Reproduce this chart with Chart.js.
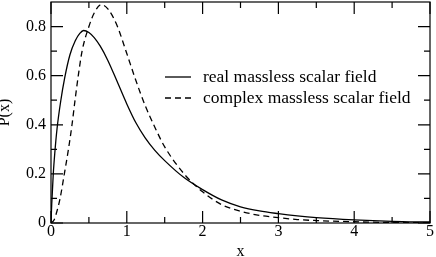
<!DOCTYPE html>
<html>
<head>
<meta charset="utf-8">
<script src="https://cdn.jsdelivr.net/npm/chart.js@4.4.0/dist/chart.umd.min.js"></script>
<style>
    html, body { margin: 0; padding: 0; background: #fff; }
</style>
</head>
<body>
<canvas id="pChart" width="436" height="257"></canvas>
<script>
// Values
const xReal = [0, 0.01, 0.03, 0.05, 0.08, 0.13, 0.18, 0.25, 0.32, 0.38, 0.43, 0.5, 0.57, 0.65, 0.75, 0.87,
    1.0, 1.12, 1.24, 1.37, 1.5, 1.75, 2.0, 2.25, 2.5, 2.75, 3.0, 3.25, 3.5, 4.0, 4.5, 5.0];
const pReal = [0, 0.08, 0.2, 0.285, 0.385, 0.5, 0.59, 0.685, 0.742, 0.772, 0.784, 0.776, 0.755, 0.72, 0.662, 0.578,
    0.485, 0.408, 0.348, 0.296, 0.254, 0.186, 0.136, 0.094, 0.066, 0.049, 0.038, 0.029, 0.022, 0.013, 0.007, 0.004];

const xComplex = [0, 0.04, 0.08, 0.12, 0.176, 0.23, 0.277, 0.317, 0.36, 0.41, 0.5, 0.57, 0.66, 0.75, 0.87,
    1.0, 1.12, 1.24, 1.37, 1.5, 1.77, 2.0, 2.25, 2.5, 2.75, 3.0, 3.25, 3.5, 4.0, 4.5, 5.0];
const pComplex = [0, 0.012, 0.05, 0.1, 0.2, 0.3, 0.4, 0.5, 0.6, 0.7, 0.8, 0.855, 0.889, 0.872, 0.805,
    0.69, 0.58, 0.48, 0.39, 0.31, 0.195, 0.127, 0.075, 0.048, 0.031, 0.022, 0.014, 0.01, 0.005, 0.002, 0.001];

const seriesLabels = ['real massless scalar field', 'complex massless scalar field'];

const xMajor = [0, 1, 2, 3, 4, 5];
const xMinor = [0.5, 1.5, 2.5, 3.5, 4.5];
const yMajor = [0, 0.2, 0.4, 0.6, 0.8];
const yMinor = [0.1, 0.3, 0.5, 0.7];

const serif = 'Liberation Serif';

function toPoints(xs, ys) {
    return xs.map((v, i) => ({ x: v, y: ys[i] }));
}

// Frame with inward ticks on all four sides
const frameTicks = {
    id: 'frameTicks',
    afterDatasetsDraw(chart) {
        const { ctx, chartArea: a, scales: { x, y } } = chart;
        ctx.save();
        ctx.strokeStyle = '#000';
        ctx.lineWidth = 1.2;
        ctx.strokeRect(a.left, a.top, a.right - a.left, a.bottom - a.top);
        ctx.beginPath();
        const xt = (vals, len) => vals.forEach(v => {
            const px = x.getPixelForValue(v);
            ctx.moveTo(px, a.bottom); ctx.lineTo(px, a.bottom - len);
            ctx.moveTo(px, a.top); ctx.lineTo(px, a.top + len);
        });
        const yt = (vals, len) => vals.forEach(v => {
            const py = y.getPixelForValue(v);
            ctx.moveTo(a.left, py); ctx.lineTo(a.left + len, py);
            ctx.moveTo(a.right, py); ctx.lineTo(a.right - len, py);
        });
        xt(xMajor, 12); xt(xMinor, 6);
        yt(yMajor, 12); yt(yMinor, 6);
        ctx.stroke();
        ctx.restore();
    }
};

// Legend drawn inside the plot, like the original
const innerLegend = {
    id: 'innerLegend',
    afterDatasetsDraw(chart) {
        const { ctx } = chart;
        ctx.save();
        ctx.font = '17.5px "' + serif + '"';
        ctx.fillStyle = '#000';
        ctx.textBaseline = 'middle';
        chart.data.datasets.forEach((ds, i) => {
            const yy = 77 + i * 21;
            ctx.strokeStyle = ds.borderColor;
            ctx.lineWidth = ds.borderWidth;
            ctx.setLineDash(ds.borderDash || []);
            ctx.beginPath();
            ctx.moveTo(165, yy); ctx.lineTo(191, yy);
            ctx.stroke();
            ctx.setLineDash([]);
            ctx.fillText(ds.label, 203, yy);
        });
        ctx.restore();
    }
};

const ctx = document.getElementById('pChart').getContext('2d');
new Chart(ctx, {
    type: 'scatter',
    data: {
        datasets: [
            {
                label: seriesLabels[0],
                data: toPoints(xReal, pReal),
                showLine: true,
                borderColor: '#000',
                borderWidth: 1.3,
                pointRadius: 0,
                cubicInterpolationMode: 'monotone',
            },
            {
                label: seriesLabels[1],
                data: toPoints(xComplex, pComplex),
                showLine: true,
                borderColor: '#000',
                borderWidth: 1.3,
                borderDash: [6, 4],
                pointRadius: 0,
                cubicInterpolationMode: 'monotone',
            }
        ]
    },
    options: {
        responsive: false,
        animation: false,
        layout: { padding: { top: 2, right: 6, left: 0, bottom: 0 } },
        plugins: {
            legend: { display: false },
            tooltip: { enabled: false },
        },
        scales: {
            x: {
                type: 'linear',
                min: 0,
                max: 5,
                grid: { display: false, drawTicks: false },
                border: { display: false },
                afterBuildTicks: s => { s.ticks = xMajor.map(v => ({ value: v })); },
                afterFit: s => { s.height = 34; s.paddingLeft = 0; s.paddingRight = 0; },
                ticks: {
                    color: '#000',
                    padding: -1,
                    font: { family: serif, size: 16 },
                    maxRotation: 0,
                },
                title: {
                    display: true,
                    text: 'x',
                    color: '#000',
                    padding: { top: 0, bottom: -4 },
                    font: { family: serif, size: 16 },
                },
            },
            y: {
                type: 'linear',
                min: 0,
                max: 0.9,
                grid: { display: false, drawTicks: false },
                border: { display: false },
                afterBuildTicks: s => { s.ticks = yMajor.map(v => ({ value: v })); },
                afterFit: s => { s.width = 51; s.paddingTop = 0; s.paddingBottom = 0; },
                ticks: {
                    color: '#000',
                    padding: 5,
                    font: { family: serif, size: 16 },
                    callback: v => (v === 0 ? '0' : v.toFixed(1)),
                },
                title: {
                    display: true,
                    text: 'P(x)',
                    color: '#000',
                    padding: { top: -5, bottom: 0 },
                    font: { family: serif, size: 16 },
                },
            },
        },
    },
    plugins: [frameTicks, innerLegend],
});
</script>
</body>
</html>
